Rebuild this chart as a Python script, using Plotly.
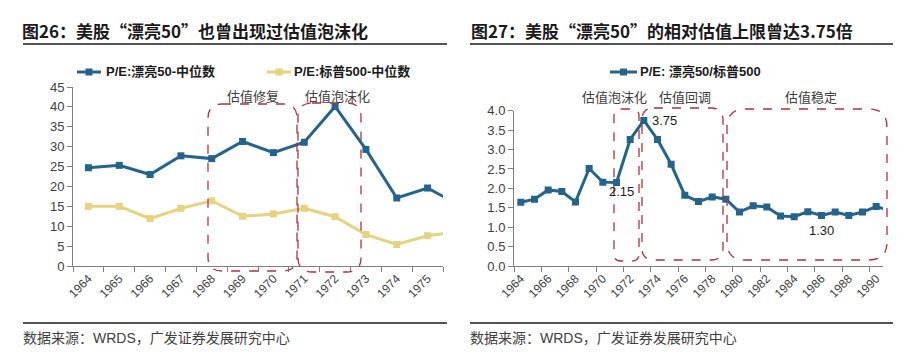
import plotly.graph_objects as go

# the page body has an 8px margin: draw the figure 8px smaller and shift coords
OFF = 8
W, H = 913 - OFF, 357 - OFF

# ---------------- data ----------------
years_left = ["1964", "1965", "1966", "1967", "1968", "1969", "1970",
              "1971", "1972", "1973", "1974", "1975", "1976"]
pe_nifty50 = [24.7, 25.3, 23.0, 27.7, 27.0, 31.3, 28.5, 31.1, 40.1, 29.3, 17.1, 19.6, 15.4]
pe_sp500 = [15.0, 15.0, 11.9, 14.5, 16.4, 12.5, 13.1, 14.5, 12.4, 7.9, 5.4, 7.6, 8.6]

years_right = [str(y) for y in range(1964, 1992)]
pe_ratio = [1.64, 1.72, 1.96, 1.92, 1.65, 2.51, 2.16, 2.15, 3.26, 3.75,
            3.26, 2.62, 1.82, 1.66, 1.78, 1.72, 1.39, 1.55, 1.52, 1.29,
            1.27, 1.40, 1.30, 1.39, 1.30, 1.39, 1.53, 1.43]
labelled_years = ["1971", "1973", "1986"]

left_names = ["P/E:漂亮50-中位数", "P/E:标普500-中位数"]
right_name = "P/E: 漂亮50/标普500"
title_left = "图26：美股“漂亮50”也曾出现过估值泡沫化"
title_right = "图27：美股“漂亮50”的相对估值上限曾达3.75倍"
source_text = "数据来源：WRDS，广发证券发展研究中心"

BLUE = "#23648F"
YELLOW = "#E6D27F"
RED = "#B3303C"
AX = "#7F7F7F"
TXT = "#404040"
CJK = "Noto Sans CJK SC"
LAT = "Liberation Sans, Arial, " + CJK


def px_x(x):
    return (x - OFF) / W


def px_y(y):
    return 1 - (y - OFF) / H


fig = go.Figure()

# left chart
fig.add_trace(go.Scatter(x=years_left, y=pe_nifty50, name=left_names[0], mode="lines+markers",
                         line=dict(color=BLUE, width=3), marker=dict(symbol="square", size=7, color=BLUE),
                         xaxis="x", yaxis="y", showlegend=False))
fig.add_trace(go.Scatter(x=years_left, y=pe_sp500, name=left_names[1], mode="lines+markers",
                         line=dict(color=YELLOW, width=3), marker=dict(symbol="square", size=7, color=YELLOW),
                         xaxis="x", yaxis="y", showlegend=False))
# right chart
fig.add_trace(go.Scatter(x=years_right, y=pe_ratio, name=right_name, mode="lines+markers",
                         line=dict(color=BLUE, width=3), marker=dict(symbol="square", size=7, color=BLUE),
                         xaxis="x2", yaxis="y2", showlegend=False))

base = dict(showline=True, linecolor=AX, linewidth=1, ticks="outside", tickcolor=AX,
            ticklen=5, showgrid=False, zeroline=False, automargin=False)
yfont = dict(family=LAT, size=13, color=TXT)
xfont = dict(family=LAT, size=12, color=TXT)

fig.update_layout(
    template="none",
    width=W, height=H, margin=dict(l=0, r=0, t=0, b=0, autoexpand=False),
    paper_bgcolor="white", plot_bgcolor="white", showlegend=False,
    xaxis=dict(domain=[px_x(73), px_x(443)], anchor="y", type="category",
               range=[-0.5, 11.5], tickson="boundaries", tickangle=-45,
               tickfont=xfont, **base),
    yaxis=dict(domain=[px_y(266), px_y(87)], anchor="x", range=[0, 45], dtick=5,
               tickfont=yfont, **base),
    xaxis2=dict(domain=[px_x(514), px_x(883)], anchor="y2", type="category",
                range=[-0.5, 26.5], tickson="boundaries", tickangle=-45, dtick=2,
                tickfont=xfont, **base),
    yaxis2=dict(domain=[px_y(266), px_y(110.7)], anchor="x2", range=[0, 4], dtick=0.5,
                tickformat=".1f", tickfont=yfont, **base),
)


def rounded_rect(x0, y0, x1, y1, r):
    # pixel coords (top-left origin) -> paper path
    def P(x, y):
        return f"{px_x(x):.5f},{px_y(y):.5f}"
    return (f"M {P(x0 + r, y0)} L {P(x1 - r, y0)} Q {P(x1, y0)} {P(x1, y0 + r)} "
            f"L {P(x1, y1 - r)} Q {P(x1, y1)} {P(x1 - r, y1)} "
            f"L {P(x0 + r, y1)} Q {P(x0, y1)} {P(x0, y1 - r)} "
            f"L {P(x0, y0 + r)} Q {P(x0, y0)} {P(x0 + r, y0)} Z")


shapes = []
boxes = [(208, 104, 297, 271, 14), (298, 103, 361, 272, 14),
         (614, 109, 639, 261, 7), (642, 108, 723, 260, 12), (727, 109, 887, 260, 18)]
for b in boxes:
    shapes.append(dict(type="path", xref="paper", yref="paper", path=rounded_rect(*b),
                       line=dict(color=RED, width=1.3, dash="dash")))

# title underlines and footer lines (thin filled rects)
for (xa, xb) in [(23, 447), (470, 893)]:
    for yl in (44, 323):
        shapes.append(dict(type="rect", xref="paper", yref="paper", x0=px_x(xa), x1=px_x(xb),
                           y0=px_y(yl + 0.8), y1=px_y(yl - 0.8), fillcolor="#1a1a1a",
                           line=dict(width=0)))

# legend glyphs (line + square)
for (xa, xb, col) in [(77, 101, BLUE), (267, 291, YELLOW), (610, 637, BLUE)]:
    shapes.append(dict(type="line", xref="paper", yref="paper", x0=px_x(xa), x1=px_x(xb),
                       y0=px_y(72), y1=px_y(72), line=dict(color=col, width=3)))
    xm = (xa + xb) / 2
    shapes.append(dict(type="rect", xref="paper", yref="paper", x0=px_x(xm - 3.5), x1=px_x(xm + 3.5),
                       y0=px_y(75.5), y1=px_y(68.5), line=dict(width=0), fillcolor=col))

fig.update_layout(shapes=shapes)

ann = []


def text(x, y, s, size, color=TXT, xanchor="left", bold=False, family=CJK):
    ann.append(dict(xref="paper", yref="paper", x=px_x(x), y=px_y(y), text=f"<b>{s}</b>" if bold else s,
                    showarrow=False, xanchor=xanchor, yanchor="middle",
                    font=dict(family=family, size=size, color=color)))


text(20, 31, title_left, 17, "#1a1a1a", bold=True)
text(469, 31, title_right, 17, "#1a1a1a", bold=True)
text(104, 72, left_names[0], 13, "#1a1a1a", bold=True, family="Liberation Sans, " + CJK)
text(292, 72, left_names[1], 13, "#1a1a1a", bold=True, family="Liberation Sans, " + CJK)
text(638, 72, right_name, 13, "#1a1a1a", bold=True, family="Liberation Sans, " + CJK)
text(21, 338, source_text, 14, "#404040", family="Liberation Sans, " + CJK)
text(468, 338, source_text, 14, "#404040", family="Liberation Sans, " + CJK)

text(253, 96, "估值修复", 13, xanchor="center")
text(337, 96, "估值泡沫化", 13, xanchor="center")
text(614, 97, "估值泡沫化", 13, xanchor="center")
text(685, 97, "估值回调", 13, xanchor="center")
text(811, 97, "估值稳定", 13, xanchor="center")

# data labels (category index on the x2 axis)
offsets = [(5, -9, "center"), (6, 0, "left"), (0, -15, "center")]
for yr, (dx, dy, xa) in zip(labelled_years, offsets):
    i = years_right.index(yr)
    ann.append(dict(xref="x2", yref="y2", x=i, y=pe_ratio[i], text=f"{pe_ratio[i]:.2f}",
                    showarrow=False, xanchor=xa, yanchor="middle", xshift=dx, yshift=dy,
                    font=dict(family=LAT, size=13, color="#1a1a1a")))

fig.update_layout(annotations=ann)
fig.write_html("out.html")
